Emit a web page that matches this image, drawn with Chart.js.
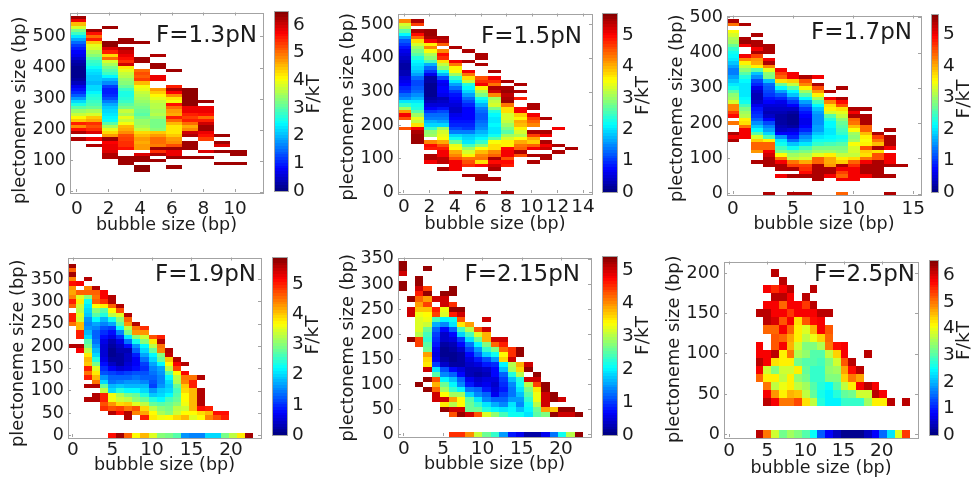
<!DOCTYPE html>
<html>
<head>
<meta charset="utf-8">
<title>Free energy maps</title>
<script src="https://cdn.jsdelivr.net/npm/chart.js@4"></script>
<style>
    html, body { margin: 0; padding: 0; background: #fff; }
    body { position: relative; width: 980px; height: 479px; overflow: hidden; }
    canvas { position: absolute; }
</style>
</head>
<body>
<script>
const _ = null;

// F/kT per bubble-size column, listed from the top bin of each column downwards (10 bp bins)
const tops13 = [560, 520, 530, 490, 480, 440, 390, 330, 290, 180, 130];
const cols13 = [
    [6.3,5.8,4.5,3.8,3.2,2.8,2.3,1.9,1.5,1.2,1.0,.8,.7,.5,.3,.2,.1,.1,.1,.1,.2,.4,.7,.9,1.1,1.4,1.8,2.2,2.6,3.0,3.4,3.7,4.1,4.4,5.5,4.8,5.6,6.2,_,6.2],
    [6.3,5.6,5.0,5.5,4.4,3.9,3.8,3.5,3.3,3.0,2.8,2.7,2.5,2.3,2.2,2.1,2.1,2.0,2.2,2.2,2.4,2.6,2.7,2.8,2.9,3.1,3.5,3.8,4.4,4.6,5.4,5.2,5.4,5.9,_,5.8,_,6.2],
    [6.3,_,_,_,_,6.4,6.4,5.9,5.5,4.3,5.0,3.8,3.5,3.2,3.0,2.8,2.4,2.0,1.7,1.2,1.0,1.0,1.1,1.3,1.6,1.9,2.1,2.2,2.3,2.4,2.5,3.0,3.5,3.9,4.3,4.7,6.3,5.7,5.8,5.8,5.9,6.2,6.2],
    [6.3,6.3,_,6.2,6.0,5.8,5.6,5.4,6.0,4.2,3.9,3.7,3.6,3.4,3.3,3.1,2.8,2.6,2.6,2.7,2.8,3.0,3.2,3.7,3.5,3.9,3.7,4.0,4.5,4.6,4.8,5.2,5.3,5.4,5.4,5.6,_,_,6.3,6.3,6.3],
    [6.3,_,_,_,_,6.3,6.3,_,_,5.0,5.2,5.1,5.3,4.5,4.0,3.9,3.7,3.6,3.5,3.4,3.3,3.2,3.1,3.0,3.2,3.4,3.4,3.5,3.7,4.3,4.5,4.7,4.6,4.7,4.7,_,5.9,6.3,6.3,_,6.4,6.4],
    [6.2,_,_,6.3,6.3,_,_,5.8,5.8,_,_,4.7,4.4,4.1,3.9,3.7,3.6,3.6,3.5,3.6,3.4,3.2,3.2,3.2,3.3,4.4,4.7,5.0,5.0,4.9,6.3,5.4,6.2,_,6.3],
    [6.3,_,_,_,_,5.5,6.2,5.7,4.8,4.2,4.0,5.6,5.0,4.7,4.6,5.5,5.0,4.5,4.2,4.2,4.2,4.4,4.7,4.8,5.2,6.3,5.8,5.8,6.3,_,_,6.3],
    [6.4,6.4,6.4,6.4,6.4,6.4,5.8,5.8,5.5,5.3,5.5,5.0,4.6,4.8,6.0,6.2,_,6.3,6.3,6.3,_,_,6.3],
    [6.3,_,5.8,5.8,5.6,5.0,5.5,6.0,6.3,6.3,5.8,5.6,5.3,_,_,_,5.9,_,6.3],
    [6.3,_,6.3,5.9,_,6.3,_,_,_,6.3],
    [6.3,6.3,_,_,6.3]
];

const tops15 = [510, 510, 480, 460, 430, 420, 410, 360, 330, 320, 260, 220, 190, 130];
const cols15 = [
    [4.2,3.3,3.1,2.6,2.1,1.6,1.2,1.0,.8,.6,.5,.4,.3,.2,.2,.3,.3,.5,.6,.7,.9,1.0,1.3,1.5,2.0,2.4,3.0,4.1,5.0,4.5,_,_,4.5],
    [5.4,4.6,_,5.4,4.9,4.4,3.7,3.3,3.0,2.8,2.6,2.3,2.1,2.0,1.9,1.8,1.6,1.3,1.1,1.1,1.2,1.3,1.5,1.7,2.0,2.2,2.3,2.6,3.0,3.4,3.2,3.7,5.0,5.4,5.5,5.5,5.5],
    [5.5,5.5,5.4,5.0,3.6,4.2,3.5,3.1,2.9,2.5,1.7,1.3,1.0,.6,.2,.2,.1,.1,.1,.1,.2,.3,.5,.7,1.0,1.3,1.4,1.7,1.9,2.4,2.9,3.0,_,4.2,4.9,4.8,_,5.4,5.4,5.0],
    [5.4,5.3,4.4,_,4.2,4.9,4.7,3.7,3.2,2.9,2.2,1.7,1.1,.7,.6,.7,.7,.6,.3,.4,.5,.8,1.1,1.3,1.4,1.6,1.9,3.0,3.3,3.4,3.5,4.0,4.5,4.8,5.0,5.0,5.3,5.3,_,5.4],
    [5.4,_,_,_,5.0,4.3,3.6,3.5,3.0,2.4,2.0,1.6,1.3,1.0,.8,.7,.6,.5,.4,.4,.6,.7,.8,.9,1.1,1.4,1.9,2.2,2.7,3.4,3.5,4.0,4.2,4.5,5.0,5.0,5.0,_,_,_,_,_,_,5.4],
    [5.4,_,_,5.4,_,_,5.0,4.3,3.7,3.2,2.3,2.1,1.9,1.6,1.3,1.1,.9,.7,.7,.7,.7,.8,.9,1.0,1.4,1.8,1.9,2.0,2.5,3.0,3.3,3.6,4.3,4.5,4.7,_,_,5.4],
    [5.4,5.4,_,5.4,_,_,_,4.5,4.7,5.0,3.6,3.1,2.8,2.2,2.0,1.7,1.4,1.3,1.2,1.2,1.3,1.4,1.5,1.7,1.9,2.1,2.4,2.9,3.5,3.9,4.2,4.3,3.7,4.9,_,_,5.4,5.4,_,_,_,5.4],
    [5.4,_,5.0,4.7,4.3,5.4,5.2,4.2,3.0,3.2,3.3,2.8,2.3,2.1,2.0,2.0,2.1,2.0,2.0,2.2,2.6,3.5,3.7,3.7,4.2,4.4,5.4,4.9,5.2,5.4,_,_,5.4],
    [5.4,_,5.4,5.5,5.3,5.4,5.5,4.3,3.7,3.7,3.3,3.3,3.2,3.0,2.8,2.6,3.0,3.3,3.6,3.6,4.9,5.0,5.0,4.5,4.9,4.8,_,_,_,_,_,_,_,5.4],
    [5.4,_,5.4,_,4.8,_,_,5.0,5.0,3.8,3.6,4.0,3.9,3.6,3.3,3.1,3.5,4.0,4.3,4.4,5.4,4.5],
    [5.4,5.4,_,5.0,4.6,4.4,4.2,_,5.4,4.6,4.0,3.8,4.4,5.0,_,5.4,_,5.4],
    [5.4,_,_,_,5.4,5.0,_,5.4,5.0,5.2,_,5.4,5.4],
    [5.0,_,_,_,_,5.4,_,5.4],
    [5.4]
];

const tops17 = [490, 480, 450, 420, 350, 340, 330, 330, 290, 300, 240, 240, 170, 180, 80];
const cols17 = [
    [5.4,4.3,_,3.5,3.3,3.1,3.0,2.7,2.4,2.2,2.1,2.0,1.8,1.6,1.4,1.4,1.6,1.8,2.0,2.2,2.6,2.9,3.0,3.3,4.2,4.2,4.6,4.9,_,4.3,_,_,5.4,5.0,5.4],
    [5.4,_,_,_,5.4,5.5,5.0,_,_,5.0,4.2,3.6,3.2,2.9,2.6,2.3,2.1,2.0,2.0,2.0,2.0,2.1,2.2,2.5,2.8,3.0,3.1,3.6,3.7,4.3,5.0,5.0,5.0],
    [5.4,_,5.4,5.4,5.0,5.4,4.6,4.1,4.0,3.6,2.6,1.8,1.5,1.1,.9,.6,.4,.3,.3,.4,.6,.8,.9,1.0,1.2,1.5,1.8,2.1,2.6,3.3,3.8,4.4,4.4,4.1,_,_,5.4],
    [5.4,5.4,5.4,_,5.0,5.4,4.2,3.4,2.9,2.8,1.8,1.3,1.2,1.1,1.0,.8,.7,.5,.4,.3,.4,.7,1.1,1.4,1.6,1.9,2.5,3.6,4.4,4.4,5.0,5.2,5.4,5.4,5.4,_,_,_,_,_,_,_,5.4],
    [5.0,4.6,4.4,3.7,2.7,2.1,1.6,1.2,.9,.6,.5,.4,.3,.2,.2,.2,.3,.4,.7,1.5,2.0,2.2,2.5,2.8,3.5,4.3,5.0,5.4,5.4,_,5.0],
    [5.0,5.0,3.8,3.2,2.6,2.1,1.8,1.3,1.0,.7,.4,.2,.1,.1,.1,.2,.5,.7,.9,1.3,1.8,2.2,2.7,3.0,3.2,4.3,4.6,5.4,_,5.4,_,_,_,_,5.4],
    [5.4,4.5,4.2,3.6,3.0,2.6,2.1,1.6,1.3,1.0,.8,.7,.6,.6,.7,.9,1.2,1.5,1.7,2.0,2.5,2.8,3.1,3.3,4.0,4.6,4.7,4.9,5.4,_,_,_,_,5.4],
    [5.0,_,5.4,4.5,4.1,3.6,3.0,2.5,2.1,1.8,1.6,1.5,1.5,1.5,1.6,1.6,1.8,2.0,2.2,2.4,2.8,3.0,3.4,4.4,4.4,5.4,5.4,5.4,5.4,5.4],
    [5.4,_,5.0,4.2,3.7,3.6,3.3,2.6,2.3,2.1,2.1,2.0,2.0,2.1,2.2,2.5,2.8,3.0,3.6,4.0,4.0,4.1,5.4,5.4,5.0],
    [5.4,_,_,5.4,4.9,4.5,3.7,3.4,3.2,2.9,2.7,2.6,2.5,2.4,2.2,2.3,2.6,2.8,2.9,3.2,3.6,3.8,5.4,5.0,4.6,4.4,5.0,_,_,_,4.4],
    [5.4,5.0,5.4,4.4,4.3,3.9,3.5,3.0,2.9,3.0,3.5,3.3,3.3,3.2,3.7,4.4,4.7,5.0,5.0,5.0,5.0],
    [5.4,_,5.4,5.4,5.4,4.4,4.4,3.9,3.6,3.5,3.6,4.5,3.8,3.7,4.3,5.0,5.4,5.4,5.4,5.0],
    [5.4,4.6,4.3,3.9,5.4,3.7,4.5,4.5,5.4,5.4,5.4,5.4,5.4],
    [5.4,_,5.4,5.4,5.4,5.0,_,5.0,5.0,5.0,5.4,_,_,5.4,_,_,_,_,5.4],
    [5.4]
];

const tops19 = [380, 340, 350, 330, 320, 310, 290, 270, 250, 240, 220, 220, 190, 170, 160, 130, 130, 60, 50, 50, 0, 0, 0];
const cols19 = [
    [5.7,4.6,5.7,4.4,5.1,4.3,4.2,4.4,5.0,4.6,_,5.0,5.0,4.5,_,_,_,_,5.6],
    [5.2,_,4.6,3.5,3.8,3.4,3.3,3.5,3.4,4.1,4.1,5.0,5.0,_,5.6,5.2],
    [5.6,_,4.4,4.6,3.0,2.3,2.1,2.0,1.9,1.6,1.5,1.6,1.8,2.0,2.7,2.9,3.3,3.8,4.1,4.0,5.0,4.5,5.0,_,5.6,_,_,5.6],
    [5.6,4.6,4.5,4.6,3.7,3.0,2.7,2.2,1.7,1.5,1.3,1.3,1.4,1.6,1.8,2.0,2.4,2.9,3.5,3.8,4.1,4.5,5.6,_,5.6,5.6],
    [5.2,5.2,4.9,3.8,2.7,2.4,1.8,1.5,1.2,1.0,.8,.6,.5,.5,.5,.6,.8,1.0,1.2,1.6,2.0,2.8,3.3,5.0,5.0,4.7,4.9],
    [5.6,5.6,4.6,3.7,3.3,2.3,1.7,1.1,.8,.6,.3,.2,.1,.1,.2,.4,.7,1.1,1.3,1.4,1.8,2.0,3.6,3.6,4.3,4.7,5.6,_,_,_,_,5.1],
    [5.6,4.7,3.5,3.0,2.7,2.2,1.5,1.0,.6,.4,.3,.2,.2,.2,.5,1.0,1.3,1.5,1.9,2.4,3.2,3.4,3.9,4.8,5.1,_,_,_,_,5.7],
    [5.6,4.6,4.3,3.3,2.9,2.1,1.4,.8,.3,.4,.4,.5,.6,1.1,1.3,1.6,1.8,2.2,2.9,3.3,4.0,4.5,5.6,5.6,_,_,_,4.6],
    [5.6,4.5,4.3,3.0,2.3,1.6,1.3,.9,.7,.7,.8,1.2,1.4,1.6,1.8,2.2,2.8,3.0,3.5,4.7,4.4,_,_,_,_,3.7],
    [4.9,4.3,3.4,3.0,2.2,2.0,1.7,1.4,1.1,1.0,1.2,1.3,1.5,1.8,2.0,2.4,2.8,3.3,3.9,4.2,5.0,_,_,_,4.1],
    [4.7,3.8,3.3,2.8,2.2,2.0,1.7,1.5,1.4,1.3,1.2,1.1,1.6,1.9,2.4,2.8,3.3,3.7,3.8,_,_,_,3.5],
    [5.0,5.6,4.5,4.4,3.0,2.8,2.2,1.7,1.6,1.5,1.5,1.6,1.9,2.0,2.2,2.7,3.0,3.2,3.6,_,_,_,3.0],
    [5.6,5.5,4.0,3.7,3.3,2.7,2.2,2.0,1.9,2.0,2.2,2.6,2.8,2.9,3.0,3.7,_,_,_,2.9],
    [5.6,5.2,4.8,3.7,3.3,3.2,2.8,2.6,2.7,2.8,3.0,3.3,3.4,3.9,_,_,_,2.7],
    [5.6,_,5.2,4.5,4.4,4.0,3.9,3.7,3.7,3.6,3.4,3.7,4.1,_,_,_,1.6],
    [4.5,5.0,5.0,4.1,4.1,4.1,4.1,4.1,3.7,3.5,_,_,_,1.5],
    [5.6,_,_,5.6,5.6,5.6,5.6,5.1,3.9,3.7,_,_,_,1.5],
    [5.0,4.1,4.4,_,_,_,2.0],
    [5.1,4.7,_,_,_,2.0],
    [5.1,5.0,_,_,_,2.9],
    [3.3],
    [3.8],
    [5.7]
];

const tops215 = [340, 270, 310, 330, 270, 280, 290, 250, 220, 210, 230, 190, 190, 170, 170, 140, 120, 100, 80, 70, 50, 40];
const cols215 = [
    [5.3,5.3,5.0,_,5.3,5.3],
    [5.3,_,5.0,5.0,_,_,_,_,5.3],
    [5.3,5.3,5.0,4.6,4.2,3.9,3.7,3.3,3.2,3.2,3.2,3.0,4.4,4.4,_,_,_,_,_,_,_,5.3],
    [5.3,_,_,_,4.4,5.3,3.9,4.4,3.7,3.4,3.3,3.1,2.6,2.4,2.3,2.5,2.6,3.9,3.6,3.5,5.0,_,5.3,_,5.3],
    [5.0,_,4.6,4.4,2.4,1.6,1.2,1.0,.9,.8,.6,.5,.6,1.0,1.9,2.5,4.3,3.8,4.2,5.0,5.0],
    [5.3,5.0,5.0,3.3,3.2,2.0,1.4,.7,.4,.4,.2,.1,.1,.2,.4,1.1,1.4,2.0,2.6,2.9,3.4,5.0,3.5,5.3],
    [5.3,5.3,_,4.5,5.3,4.6,2.1,1.9,1.2,.7,.5,.3,.2,.1,.1,.2,.7,1.2,1.7,2.0,2.3,2.9,3.9,3.0,5.0,4.3,_,_,_,4.5],
    [5.3,5.0,4.3,3.5,2.4,1.8,1.0,.7,.4,.2,.2,.2,.5,.7,1.2,1.4,2.0,2.9,3.4,3.4,5.0,5.3,_,_,_,4.5],
    [3.9,3.0,2.4,1.9,1.3,1.0,.7,.5,.4,.3,.3,.6,.8,1.3,1.8,2.5,2.6,2.6,5.0,_,_,_,4.0],
    [4.3,3.2,2.6,2.0,1.5,1.2,.8,.5,.3,.2,.4,.5,1.2,1.4,1.9,2.3,2.6,4.3,_,_,_,3.1],
    [5.0,_,5.0,3.8,3.8,2.7,2.3,1.8,1.1,.8,.4,.3,.5,.6,.8,1.2,1.4,1.9,2.2,3.2,_,_,_,2.6],
    [5.0,4.2,2.7,2.1,1.5,.9,.7,.7,.5,.4,.5,.6,1.2,1.6,2.0,2.8,_,_,_,2.3],
    [5.0,4.6,4.2,3.4,3.6,2.0,1.7,1.2,1.0,.9,.8,1.0,1.2,1.4,1.9,2.4,_,_,_,1.5],
    [4.5,4.5,5.0,3.0,2.9,2.2,1.7,1.4,1.3,1.3,1.5,1.9,2.0,2.1,_,_,_,.8],
    [5.3,5.3,_,3.8,3.6,3.0,2.2,2.1,1.9,1.7,1.5,1.4,1.7,2.1,_,_,_,.6],
    [5.0,5.3,_,5.0,3.0,2.7,2.5,2.3,2.1,2.0,1.9,_,_,_,.2],
    [5.3,5.0,4.4,3.5,3.3,3.3,3.0,2.6,2.5,_,_,_,.2],
    [5.3,5.3,5.0,5.0,5.0,3.9,2.7,_,_,_,.6],
    [5.3,5.3,_,3.7,5.3,_,_,_,1.3],
    [5.0,_,5.3,5.0,_,_,_,2.1],
    [5.3,5.0,_,_,_,3.0],
    [5.3,_,_,_,5.3]
];

// the 2.5 pN map has no data for bubbles below 4 bp
const firstCol25 = 4;
const tops25 = [150, 180, 200, 190, 180, 160, 170, 180, 150, 150, 110, 110, 90, 80, 100, 60, 50, 40, 0, 40];
const cols25 = [
    [6.2,_,_,_,5.8,5.8,6.2,5.8,5.1,_,_,_,_,_,_,6.2],
    [5.8,_,5.8,6.2,6.2,5.1,_,_,5.8,5.8,3.8,4.2,5.0,5.8,6.2,_,_,_,5.0],
    [6.2,_,5.5,6.2,5.8,5.8,6.0,5.1,5.2,5.2,6.2,4.3,3.3,4.2,3.7,4.8,5.8,_,_,_,3.8],
    [6.2,5.8,6.2,5.1,5.8,5.2,5.8,5.1,5.8,4.2,4.2,3.8,3.7,4.0,4.2,5.0,_,_,_,3.2],
    [6.2,5.8,5.8,5.4,5.8,5.1,4.7,4.6,5.0,4.2,3.8,4.2,4.2,4.6,5.0,_,_,_,3.5],
    [5.8,5.8,4.3,4.2,4.2,3.8,3.6,3.2,4.2,3.4,3.7,4.5,5.3,_,_,_,3.3],
    [6.2,5.4,5.8,5.2,3.9,3.7,3.3,3.4,3.0,3.1,3.2,3.5,3.7,4.3,_,_,_,3.0],
    [6.2,_,6.2,5.8,5.7,4.6,4.0,3.3,3.0,3.0,2.8,2.8,3.0,3.1,3.7,_,_,_,2.5],
    [6.2,5.8,5.8,4.4,3.6,3.0,2.9,2.8,2.8,2.7,2.6,2.7,_,_,_,1.4],
    [6.2,_,5.2,5.1,5.0,3.7,3.3,3.4,3.3,2.5,2.4,2.4,_,_,_,.8],
    [5.7,4.4,3.8,3.5,3.3,3.0,2.7,2.4,_,_,_,.4],
    [5.8,5.8,5.2,4.7,4.4,3.7,3.1,2.8,_,_,_,.1],
    [6.2,5.7,5.0,4.2,3.2,2.8,_,_,_,.1],
    [6.2,4.7,5.8,3.8,2.8,_,_,_,.1],
    [6.2,_,_,_,6.2,3.8,3.5,_,_,_,.4],
    [5.8,6.2,4.2,_,_,_,.8],
    [5.8,4.2,_,_,_,1.5],
    [6.2,_,_,_,2.3],
    [3.9],
    [6.2,_,_,_,5.4]
];

const yTicks13 = [0, 100, 200, 300, 400, 500];
const yTicks19 = [0, 50, 100, 150, 200, 250, 300, 350];
const yTicks25 = [0, 50, 100, 150, 200];
const xTicks13 = [0, 2, 4, 6, 8, 10];
const xTicks15 = [0, 2, 4, 6, 8, 10, 12, 14];
const xTicks5 = [0, 5, 10, 15];
const xTicks20 = [0, 5, 10, 15, 20];
const barTicks6 = [0, 1, 2, 3, 4, 5, 6];
const barTicks5 = [0, 1, 2, 3, 4, 5];

const TEXT = '#1c1c1c';
const FRAME = '#a3a3a3';
const FONT = '"DejaVu Sans"';

const jet = (t) => {
    const c = (x) => Math.round(255 * Math.min(1, Math.max(0, 1.5 - Math.abs(x))));
    return 'rgb(' + c(4 * t - 3) + ',' + c(4 * t - 2) + ',' + c(4 * t - 1) + ')';
};

const rotatedText = (ctx, text, x, y, size) => {
    ctx.save();
    ctx.translate(x, y);
    ctx.rotate(-Math.PI / 2);
    ctx.font = size + 'px ' + FONT;
    ctx.textAlign = 'center';
    ctx.textBaseline = 'middle';
    ctx.fillText(text, 0, 0);
    ctx.restore();
};

// draws the cells of a dataset through the chart scales
const cellsPlugin = {
    id: 'cells',
    beforeDatasetsDraw(chart, args, opts) {
        const { ctx, scales: { x, y } } = chart;
        chart.data.datasets[0].data.forEach(p => {
            const x1 = Math.round(x.getPixelForValue(p.x - opts.dx / 2));
            const x2 = Math.round(x.getPixelForValue(p.x + opts.dx / 2));
            const y1 = Math.round(y.getPixelForValue(p.y + opts.dy / 2));
            const y2 = Math.round(y.getPixelForValue(p.y - opts.dy / 2));
            ctx.fillStyle = jet(Math.min(1, p.v / opts.vmax));
            ctx.fillRect(x1, y1, x2 - x1, y2 - y1);
        });
    },
    afterDatasetsDraw(chart, args, opts) {
        const { ctx, chartArea: a, scales: { x, y } } = chart;
        ctx.save();
        ctx.strokeStyle = FRAME;
        ctx.lineWidth = 1;
        ctx.strokeRect(Math.round(a.left) + .5, Math.round(a.top) + .5, Math.round(a.width), Math.round(a.height));
        if (opts.mirror) {
            ctx.beginPath();
            x.ticks.forEach(t => {
                const px = Math.round(x.getPixelForValue(t.value)) + .5;
                ctx.moveTo(px, a.top);
                ctx.lineTo(px, a.top + 3);
            });
            y.ticks.forEach(t => {
                const py = Math.round(y.getPixelForValue(t.value)) + .5;
                ctx.moveTo(a.right, py);
                ctx.lineTo(a.right - 3, py);
            });
            ctx.stroke();
        }
        ctx.fillStyle = TEXT;
        if (opts.label) {
            ctx.font = '23px ' + FONT;
            ctx.textAlign = 'right';
            ctx.textBaseline = 'alphabetic';
            ctx.fillText(opts.label, a.left + opts.labelX, a.top + opts.labelY);
            rotatedText(ctx, 'plectoneme size (bp)', a.left - 49.5, (a.top + a.bottom) / 2 + opts.yTitleDown, 17.8);
        }
        if (opts.barTitle) {
            rotatedText(ctx, opts.barTitle, a.right + 26, (a.top + a.bottom) / 2 - opts.titleUp, 18.5);
        }
        ctx.restore();
    }
};

const addCanvas = (left, top, width, height) => {
    const canvas = document.createElement('canvas');
    canvas.width = width;
    canvas.height = height;
    canvas.style.left = left + 'px';
    canvas.style.top = top + 'px';
    canvas.style.width = width + 'px';
    canvas.style.height = height + 'px';
    document.body.appendChild(canvas);
    return canvas;
};

const crearMapa = (p) => {
    const axL = 60;
    const padTop = 14;
    const padRight = 22;
    const axB = p.titleGap + 11;
    const L = Math.round(p.L), T = Math.round(p.T), R = Math.round(p.R), B = Math.round(p.B);
    const canvas = addCanvas(L - axL, T - padTop, axL + (R - L) + padRight, padTop + (B - T) + axB);

    const puntos = [];
    p.cols.forEach((col, i) => {
        col.forEach((v, j) => {
            if (v !== null) {
                puntos.push({ x: p.x0 + (i + p.firstCol) * p.dx, y: p.tops[i] - j * 10, v: v });
            }
        });
    });

    new Chart(canvas.getContext('2d'), {
        type: 'scatter',
        data: { datasets: [{ data: puntos, pointRadius: 0, pointHoverRadius: 0 }] },
        plugins: [cellsPlugin],
        options: {
            responsive: false,
            animation: false,
            events: [],
            layout: { padding: { top: padTop, right: padRight, left: 0, bottom: 0 } },
            plugins: {
                legend: { display: false },
                tooltip: { enabled: false },
                cells: {
                    dx: p.dx, dy: 10, vmax: p.vmax, mirror: true, yTitleDown: p.yTitleDown,
                    label: p.label, labelX: p.labelRight - L, labelY: p.labelBase - T
                }
            },
            scales: {
                x: {
                    type: 'linear',
                    min: p.xMin,
                    max: p.xMax,
                    afterFit: (s) => { s.height = axB; },
                    afterBuildTicks: (s) => { s.ticks = p.xTicks.map(v => ({ value: v })); },
                    border: { display: false },
                    grid: { drawOnChartArea: false, drawTicks: true, tickLength: -3, color: FRAME },
                    ticks: { autoSkip: false, maxRotation: 0, padding: p.tickGap, color: TEXT, font: { family: FONT, size: 18.5 }, callback: (v) => v },
                    title: { display: true, text: 'bubble size (bp)', padding: 0, color: TEXT, font: { family: FONT, size: 17.5 } }
                },
                y: {
                    type: 'linear',
                    min: p.yMin,
                    max: p.yMax,
                    afterFit: (s) => { s.width = axL; },
                    afterBuildTicks: (s) => { s.ticks = p.yTicks.map(v => ({ value: v })); },
                    border: { display: false },
                    grid: { drawOnChartArea: false, drawTicks: true, tickLength: -3, color: FRAME },
                    ticks: { autoSkip: false, padding: 7, color: TEXT, font: { family: FONT, size: 17.5 }, callback: (v) => v }
                }
            }
        }
    });
};

const crearBarra = (b) => {
    const L = Math.round(b.L), T = Math.round(b.T), R = Math.round(b.R), B = Math.round(b.B);
    const axR = 42;
    const pad = 14;
    const canvas = addCanvas(L - 2, T - pad, Math.min(980 - L + 2, (R - L) + axR + 2), (B - T) + 2 * pad);
    const niveles = 64;
    const puntos = [];
    for (let k = 0; k < niveles; k++) {
        const v = (k + .5) / niveles * b.vmax;
        puntos.push({ x: .5, y: v, v: v });
    }
    new Chart(canvas.getContext('2d'), {
        type: 'scatter',
        data: { datasets: [{ data: puntos, pointRadius: 0, pointHoverRadius: 0 }] },
        plugins: [cellsPlugin],
        options: {
            responsive: false,
            animation: false,
            events: [],
            layout: { padding: { top: pad, bottom: pad, left: 2, right: 0 } },
            plugins: {
                legend: { display: false },
                tooltip: { enabled: false },
                cells: { dx: 1, dy: b.vmax / niveles, vmax: b.vmax, barTitle: 'F/kT', titleUp: b.titleUp }
            },
            scales: {
                x: { type: 'linear', min: 0, max: 1, display: false },
                y: {
                    type: 'linear',
                    position: 'right',
                    min: 0,
                    max: b.vmax,
                    afterFit: (s) => { s.width = axR; },
                    afterBuildTicks: (s) => { s.ticks = b.ticks.map(v => ({ value: v })); },
                    border: { display: false },
                    grid: { display: false, drawTicks: false },
                    ticks: { autoSkip: false, padding: 5, color: TEXT, font: { family: FONT, size: 18.5 }, callback: (v) => v }
                }
            }
        }
    });
};

document.addEventListener('DOMContentLoaded', function() {
    // Fila superior
    crearMapa({ L: 69.5, R: 262.5, T: 9, B: 191.5, xMin: -.44, xMax: 11.77, yMin: -.6, yMax: 577, x0: .05, dx: 1.017, firstCol: 0,
        tops: tops13, cols: cols13, vmax: 6.5, xTicks: xTicks13, yTicks: yTicks13, tickGap: 9, titleGap: 33, yTitleDown: 8,
        label: 'F=1.3pN', labelRight: 257, labelBase: 38 });
    crearMapa({ L: 397.7, R: 591.7, T: 10, B: 193.3, xMin: -.45, xMax: 14.7, yMin: -1.7, yMax: 532, x0: .05, dx: 1.005, firstCol: 0,
        tops: tops15, cols: cols15, vmax: 5.65, xTicks: xTicks15, yTicks: yTicks13, tickGap: 6, titleGap: 31, yTitleDown: 3.5,
        label: 'F=1.5pN', labelRight: 582, labelBase: 39 });
    crearMapa({ L: 727.3, R: 921, T: 11.7, B: 193.7, xMin: -.5, xMax: 15.64, yMin: -1, yMax: 505, x0: 0, dx: 1.005, firstCol: 0,
        tops: tops17, cols: cols17, vmax: 5.65, xTicks: xTicks5, yTicks: yTicks13, tickGap: 7, titleGap: 30, yTitleDown: 3.5,
        label: 'F=1.7pN', labelRight: 912, labelBase: 35 });

    // Fila inferior
    crearMapa({ L: 68, R: 261.3, T: 254.3, B: 436.7, xMin: -.63, xMax: 23.8, yMin: -3.7, yMax: 398.6, x0: -.13, dx: 1.02, firstCol: 0,
        tops: tops19, cols: cols19, vmax: 5.9, xTicks: xTicks20, yTicks: yTicks19, tickGap: 5, titleGap: 28, yTitleDown: 6,
        label: 'F=1.9pN', labelRight: 256, labelBase: 277.7 });
    crearMapa({ L: 397.7, R: 591.3, T: 254, B: 436, xMin: -.74, xMax: 23.8, yMin: -3.3, yMax: 352.8, x0: -.19, dx: 1.07, firstCol: 0,
        tops: tops215, cols: cols215, vmax: 5.42, xTicks: xTicks20, yTicks: yTicks19, tickGap: 5, titleGap: 28, yTitleDown: 1,
        label: 'F=2.15pN', labelRight: 580, labelBase: 277.7 });
    crearMapa({ L: 724.3, R: 918.3, T: 258.3, B: 436.7, xMin: -.68, xMax: 24.75, yMin: -3.3, yMax: 214.3, x0: -.08, dx: 1.013, firstCol: firstCol25,
        tops: tops25, cols: cols25, vmax: 6.58, xTicks: xTicks20, yTicks: yTicks25, tickGap: 6, titleGap: 31, yTitleDown: 0,
        label: 'F=2.5pN', labelRight: 915, labelBase: 277.7 });

    // Barras de color
    crearBarra({ L: 274, R: 288, T: 9.3, B: 192.7, vmax: 6.5, ticks: barTicks6, titleUp: 7 });
    crearBarra({ L: 602.3, R: 616.7, T: 10.7, B: 194, vmax: 5.7, ticks: barTicks5, titleUp: 7 });
    crearBarra({ L: 931, R: 946, T: 11.7, B: 194, vmax: 5.65, ticks: barTicks5, titleUp: 4 });
    crearBarra({ L: 271.7, R: 286.7, T: 255, B: 437.3, vmax: 5.9, ticks: barTicks5, titleUp: 11 });
    crearBarra({ L: 601.7, R: 616.7, T: 254, B: 436.7, vmax: 5.42, ticks: barTicks5, titleUp: 10 });
    crearBarra({ L: 929, R: 943.3, T: 257.7, B: 436.7, vmax: 6.58, ticks: barTicks6, titleUp: 7 });
});
</script>
</body>
</html>
